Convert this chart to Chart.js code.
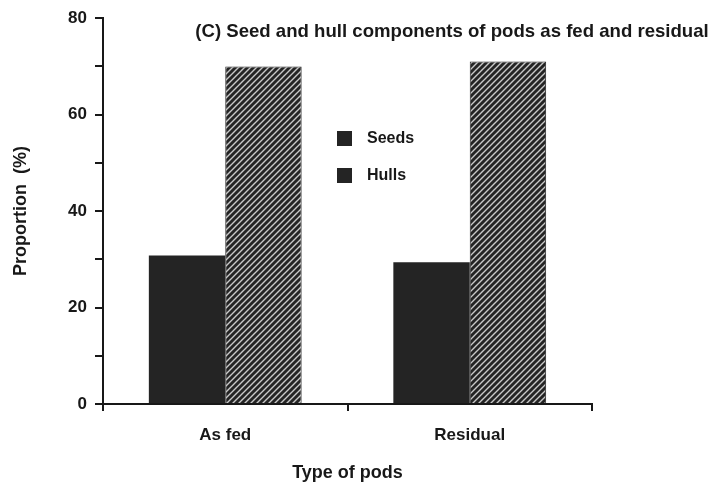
<!DOCTYPE html>
<html>
<head>
<meta charset="utf-8">
<script src="https://cdn.jsdelivr.net/npm/chart.js@4/dist/chart.umd.min.js"></script>
<style>
  html, body { margin: 0; padding: 0; background: #fff; }
  #wrap { width: 714px; height: 489px; }
</style>
</head>
<body>
<div id="wrap"><canvas id="c" width="714" height="489"></canvas></div>
<script>
// Proportions (%) of seed and hull in pods, as fed and in the residual
const categories = ['As fed', 'Residual'];
const seedValues = [30.8, 29.4];
const hullValues = [70.0, 71.0];
const seriesNames = ['Seeds', 'Hulls'];
const labelledTicks = [0, 20, 40, 60, 80];
const chartTitle = '(C) Seed and hull components of pods as fed and residual';
const xAxisTitle = 'Type of pods';
const yAxisTitle = 'Proportion  (%)';

const INK = '#181818';
const FONT = '"Liberation Sans", Arial, Helvetica, sans-serif';

// diagonal hatch used for the hull bars
function makeHatch() {
  const s = 6;
  const c = document.createElement('canvas');
  c.width = s; c.height = s;
  const g = c.getContext('2d');
  g.fillStyle = '#242424';
  g.fillRect(0, 0, s, s);
  g.strokeStyle = '#c8c8c8';
  g.lineWidth = 1.4;
  g.beginPath();
  g.moveTo(-1, s + 1); g.lineTo(s + 1, -1);
  g.moveTo(-1, 1); g.lineTo(1, -1);
  g.moveTo(s - 1, s + 1); g.lineTo(s + 1, s - 1);
  g.stroke();
  return g.createPattern(c, 'repeat');
}

// title and legend drawn inside the plot area
const annotations = {
  id: 'annotations',
  afterDraw(chart) {
    const ctx = chart.ctx;
    ctx.save();
    ctx.fillStyle = INK;
    ctx.textBaseline = 'middle';
    ctx.font = 'bold 18.6px ' + FONT;
    ctx.textAlign = 'center';
    ctx.fillText(chartTitle, 452, 32);

    ctx.font = 'bold 16px ' + FONT;
    ctx.textAlign = 'left';
    chart.data.datasets.forEach((ds, i) => {
      const y = 131 + i * 37;
      ctx.fillStyle = '#242424';
      ctx.fillRect(337, y, 15, 15);
      ctx.fillStyle = INK;
      ctx.fillText(ds.label, 367, y + 8);
    });
    ctx.restore();
  }
};

Chart.defaults.font.family = FONT;
Chart.defaults.font.weight = 'bold';
Chart.defaults.color = INK;

new Chart(document.getElementById('c'), {
  type: 'bar',
  data: {
    labels: categories,
    datasets: [
      {
        label: seriesNames[0],
        data: seedValues,
        backgroundColor: '#242424',
        borderColor: '#242424',
        borderWidth: 0
      },
      {
        label: seriesNames[1],
        data: hullValues,
        backgroundColor: makeHatch(),
        borderColor: '#242424',
        borderWidth: 1
      }
    ]
  },
  options: {
    responsive: false,
    devicePixelRatio: 1,
    animation: false,
    layout: { padding: { top: 15, right: 122, left: 0, bottom: 0 } },
    datasets: { bar: { categoryPercentage: 0.625, barPercentage: 1.0 } },
    plugins: {
      legend: { display: false },
      title: { display: false },
      tooltip: { enabled: false }
    },
    scales: {
      x: {
        afterFit(scale) { scale.height = 85; },
        grid: {
          offset: true,
          drawOnChartArea: false,
          drawTicks: true,
          tickLength: 7,
          color: INK,
          lineWidth: 2
        },
        border: { display: true, color: INK, width: 2 },
        ticks: { font: { size: 17, weight: 'bold' }, padding: 14, color: INK },
        title: {
          display: true,
          text: xAxisTitle,
          font: { size: 18, weight: 'bold' },
          color: INK,
          padding: { top: 0, bottom: 5 }
        }
      },
      y: {
        min: 0,
        max: 80,
        afterFit(scale) { scale.width = 103; },
        grid: {
          drawOnChartArea: false,
          drawTicks: true,
          tickLength: 8,
          color: INK,
          lineWidth: 2
        },
        border: { display: true, color: INK, width: 2 },
        ticks: {
          stepSize: 10,
          autoSkip: false,
          padding: 8,
          font: { size: 17, weight: 'bold' },
          color: INK,
          callback: (v) => labelledTicks.includes(v) ? String(v) : ''
        },
        title: {
          display: true,
          text: yAxisTitle,
          font: { size: 18, weight: 'bold' },
          color: INK,
          padding: { top: 10, bottom: 0 }
        }
      }
    }
  },
  plugins: [annotations]
});
</script>
</body>
</html>
